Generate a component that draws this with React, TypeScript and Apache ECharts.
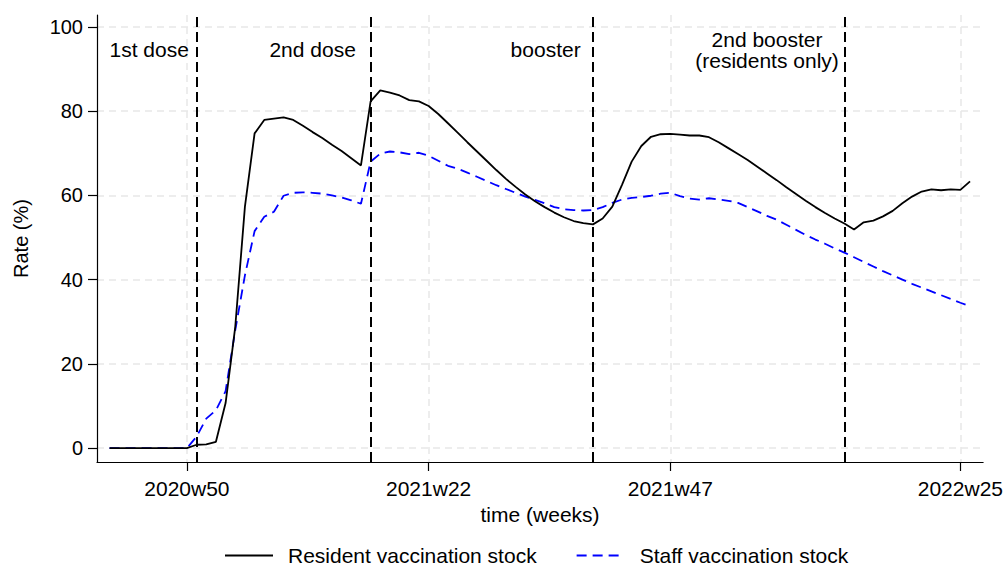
import React, { useEffect, useRef } from "react";
import * as echarts from "echarts";

// Week index 0 = 2020w50
const firstWeek = -8;
const residentStock = [
  0, 0, 0, 0, 0, 0, 0, 0, 0,
  0.8, 0.9, 1.5, 10.7, 28.8, 57.3, 74.7, 77.9, 78.2, 78.5,
  77.9, 76.5, 75.0, 73.6, 72.0, 70.5, 68.8, 67.1, 82.3, 84.9,
  84.4, 83.7, 82.6, 82.3, 81.2, 79.3, 77.1, 74.9, 72.6, 70.4,
  68.2, 66.0, 63.9, 62.0, 60.2, 58.6, 57.2, 55.9, 54.8, 53.9,
  53.4, 53.1, 54.5, 57.3, 62.5, 68.0, 71.7, 73.9, 74.5, 74.6,
  74.4, 74.2, 74.2, 73.8, 72.6, 71.2, 69.8, 68.4, 66.8, 65.2,
  63.6, 61.9, 60.3, 58.7, 57.2, 55.8, 54.5, 53.3, 51.9, 53.6,
  54.0, 55.0, 56.3, 58.1, 59.7, 60.9, 61.4, 61.2, 61.4, 61.3,
  63.3,
];
const staffStock = [
  0, 0, 0, 0, 0, 0, 0, 0, 0,
  2.7, 7.0, 9.0, 13.5, 28.0, 41.0, 51.5, 54.9, 56.1, 59.9,
  60.6, 60.7, 60.6, 60.4, 60.0, 59.5, 58.8, 58.0, 68.0, 69.9,
  70.4, 70.2, 69.8, 70.1, 69.4, 68.2, 67.0, 66.3, 65.4, 64.4,
  63.4, 62.4, 61.5, 60.6, 59.7, 58.9, 58.1, 57.2, 56.7, 56.5,
  56.4, 56.5, 57.2, 58.2, 59.0, 59.4, 59.6, 59.9, 60.4, 60.6,
  59.8, 59.2, 59.0, 59.3, 59.0, 58.7, 58.2, 57.2, 56.2, 55.1,
  54.2, 53.0, 51.8, 50.6, 49.5, 48.5, 47.4, 46.4, 45.3, 44.2,
  43.1, 42.0, 41.0, 40.0, 39.0, 38.1, 37.2, 36.3, 35.4, 34.5,
  33.7,
];
const xTickWeeks = [0, 25, 50, 80];
const xTickLabels = ["2020w50", "2021w22", "2021w47", "2022w25"];
const yTicks = [0, 20, 40, 60, 80, 100];
const policyWeeks = [1, 19, 42, 68];
const annotationTexts = ["1st dose", "2nd dose", "booster", "2nd booster\n(residents only)"];
const annotationWeeks = [-3.9, 13.0, 37.1, 60.0];
const annotationLevel = 94.6;

const FONT = "'Liberation Sans', Arial, Helvetica, sans-serif";

export default function App() {
  const ref = useRef<HTMLDivElement>(null);
  useEffect(() => {
    if (!ref.current) return;
    const chart = echarts.init(ref.current, undefined, { renderer: "svg" });
    const resData = residentStock.map((v, i) => [firstWeek + i, v]);
    const staffData = staffStock.map((v, i) => [firstWeek + i, v]);
    const gridLine = { show: true, lineStyle: { color: "#e8e8e8", width: 1.5, type: [7, 5] as any } };
    chart.setOption({
      animation: false,
      backgroundColor: "#fff",
      textStyle: { fontFamily: FONT, color: "#000" },
      grid: { left: 97, right: 21, top: 15, bottom: 105 },
      xAxis: {
        type: "value",
        min: -9.3,
        max: 82.35,
        name: "time (weeks)",
        nameLocation: "middle",
        nameGap: 42,
        nameTextStyle: { fontSize: 21, color: "#000", fontFamily: FONT, verticalAlign: "top" },
        axisLine: { onZero: false, lineStyle: { color: "#000", width: 1.2 } },
        axisTick: { show: true, length: 9, customValues: xTickWeeks, lineStyle: { color: "#000", width: 1.2 } },
        axisLabel: {
          customValues: xTickWeeks,
          fontSize: 21,
          color: "#000",
          fontFamily: FONT,
          margin: 16,
          formatter: (v: number) => {
            const i = xTickWeeks.indexOf(Math.round(v));
            return i >= 0 ? xTickLabels[i] : "";
          },
        },
        splitLine: gridLine,
      },
      yAxis: {
        type: "value",
        min: -3.3,
        max: 102.8,
        name: "Rate (%)",
        nameLocation: "middle",
        nameGap: 66,
        nameTextStyle: { fontSize: 20, color: "#000", fontFamily: FONT },
        axisLine: { show: true, onZero: false, lineStyle: { color: "#000", width: 1.2 } },
        axisTick: { show: true, length: 9, customValues: yTicks, lineStyle: { color: "#000", width: 1.2 } },
        axisLabel: { customValues: yTicks, fontSize: 20, color: "#000", fontFamily: FONT, margin: 14 },
        splitLine: gridLine,
      },
      legend: {
        data: ["Resident vaccination stock", "Staff vaccination stock"],
        left: 219,
        top: 540,
        itemWidth: 48,
        itemHeight: 12,
        itemGap: 39,
        itemStyle: { opacity: 0 },
        textStyle: { fontSize: 21, color: "#000", fontFamily: FONT, padding: [0, 0, 0, 10] },
      },
      series: [
        {
          name: "Resident vaccination stock",
          type: "line",
          data: resData,
          symbol: "none",
          z: 3,
          lineStyle: { color: "#000", width: 1.8 },
          itemStyle: { color: "#000" },
          markLine: {
            silent: true,
            symbol: ["none", "none"],
            label: { show: false },
            lineStyle: { color: "#000", width: 2, type: [10, 5] as any },
            data: policyWeeks.map((w) => ({ xAxis: w })),
          },
        },
        {
          name: "Staff vaccination stock",
          type: "line",
          data: staffData,
          symbol: "none",
          z: 2,
          lineStyle: { color: "#0000ff", width: 1.8, type: [10, 6] as any },
          itemStyle: { color: "#0000ff" },
        },
        {
          name: "annotations",
          type: "scatter",
          silent: true,
          symbolSize: 0,
          itemStyle: { opacity: 1, color: "#000" },
          data: annotationTexts.map((t, i) => ({ value: [annotationWeeks[i], annotationLevel], text: t })),
          label: {
            show: true,
            position: [0, 0],
            align: "center",
            verticalAlign: "middle",
            fontSize: 21,
            lineHeight: 21,
            color: "#000",
            opacity: 1,
            textBorderWidth: 0,
            fontFamily: FONT,
            formatter: (p: any) => p.data.text,
          },
        },
      ],
    });
    return () => chart.dispose();
  }, []);
  return <div ref={ref} style={{ width: 1006, height: 567, position: "absolute", left: 0, top: 0 }} />;
}
